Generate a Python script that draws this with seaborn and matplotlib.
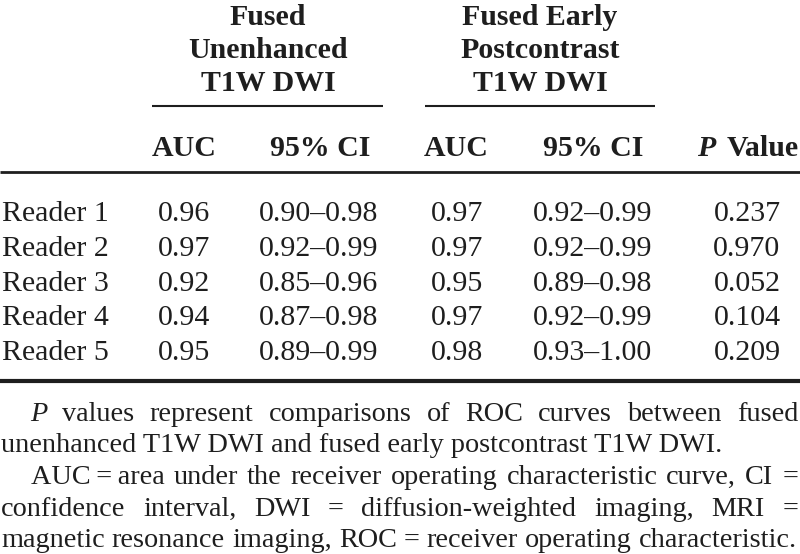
import matplotlib
matplotlib.use('Agg')
import pandas as pd
import seaborn as sns
import matplotlib.pyplot as plt

readers = ['Reader 1', 'Reader 2', 'Reader 3', 'Reader 4', 'Reader 5']
auc_unenh = [0.96, 0.97, 0.92, 0.94, 0.95]
ci_unenh = ['0.90\u20130.98', '0.92\u20130.99', '0.85\u20130.96', '0.87\u20130.98', '0.89\u20130.99']
auc_post = [0.97, 0.97, 0.95, 0.97, 0.98]
ci_post = ['0.92\u20130.99', '0.92\u20130.99', '0.89\u20130.98', '0.92\u20130.99', '0.93\u20131.00']
p_values = [0.237, 0.970, 0.052, 0.104, 0.209]

group_titles = [['Fused', 'Unenhanced', 'T1W DWI'], ['Fused Early', 'Postcontrast', 'T1W DWI']]
col_heads = ['AUC', '95% CI', 'AUC', '95% CI']

notes = [
    (30, 798, [('P', 'italic')] + 'values represent comparisons of ROC curves between fused'.split()),
    (1, None, ['unenhanced T1W DWI and fused early postcontrast T1W DWI.']),
    (31, 798, ['AUC\u2009=\u2009area'] + 'under the receiver operating characteristic curve, CI ='.split()),
    (1, 798, 'confidence interval, DWI = diffusion-weighted imaging, MRI ='.split()),
    (1, 797, 'magnetic resonance imaging, ROC = receiver operating characteristic.'.split()),
]

df = pd.DataFrame({'reader': readers, 'auc1': auc_unenh, 'ci1': ci_unenh,
                   'auc2': auc_post, 'ci2': ci_post, 'p': p_values})

sns.set_theme(style='white')
plt.rcParams['font.family'] = ['Liberation Serif', 'DejaVu Serif']
ink = '#1e1e1e'

fig = plt.figure(figsize=(8, 5.54), dpi=100)
ax = fig.add_axes([0, 0, 1, 1])
ax.set_xlim(0, 800)
ax.set_ylim(554, 0)
ax.axis('off')

fs = 21.5
# group headers
head_y = [25, 58, 91]
for cx, lines in zip([268, 540], group_titles):
    for y, t in zip(head_y, lines):
        ax.text(cx, y, t, ha='center', va='baseline', fontsize=fs, fontweight='bold', color=ink)
ax.hlines(106, 152, 383, lw=1.5, color=ink)
ax.hlines(106, 425, 655, lw=1.5, color=ink)

col_x = [184, 320, 456, 593]
for cx, t in zip(col_x, col_heads):
    ax.text(cx, 156, t, ha='center', va='baseline', fontsize=fs, fontweight='bold', color=ink)
ax.text(697, 156, 'P', ha='left', va='baseline', fontsize=fs, fontweight='bold', fontstyle='italic', color=ink)
ax.text(799, 156, 'Value', ha='right', va='baseline', fontsize=fs, fontweight='bold', color=ink)
ax.hlines(172, 0, 800, lw=2.0, color=ink)

for i, row in df.iterrows():
    y = 221 + 34.8 * i
    ax.text(2, y, row['reader'], ha='left', va='baseline', fontsize=fs, color=ink)
    ax.text(184, y, f"{row['auc1']:.2f}", ha='center', va='baseline', fontsize=fs, color=ink)
    ax.text(319, y, row['ci1'], ha='center', va='baseline', fontsize=fs, color=ink)
    ax.text(457, y, f"{row['auc2']:.2f}", ha='center', va='baseline', fontsize=fs, color=ink)
    ax.text(593, y, row['ci2'], ha='center', va='baseline', fontsize=fs, color=ink)
    ax.text(747, y, f"{row['p']:.3f}", ha='center', va='baseline', fontsize=fs, color=ink)
ax.hlines(381, 0, 800, lw=3.0, color=ink)

# footnotes, justified
renderer = fig.canvas.get_renderer()
nfs = 20.3
for j, (x0, x1, words) in enumerate(notes):
    y = 421 + 31.5 * j
    objs = []
    for w in words:
        style = 'normal'
        if isinstance(w, tuple):
            w, style = w
        objs.append(ax.text(0, y, w, ha='left', va='baseline', fontsize=nfs, fontstyle=style, color=ink))
    if x1 is None:
        objs[0].set_x(x0)
        continue
    widths = [o.get_window_extent(renderer).width for o in objs]
    gap = (x1 - x0 - sum(widths)) / (len(objs) - 1)
    x = x0
    for o, wd in zip(objs, widths):
        o.set_x(x)
        x += wd + gap

fig.savefig('out.png', dpi=100)
